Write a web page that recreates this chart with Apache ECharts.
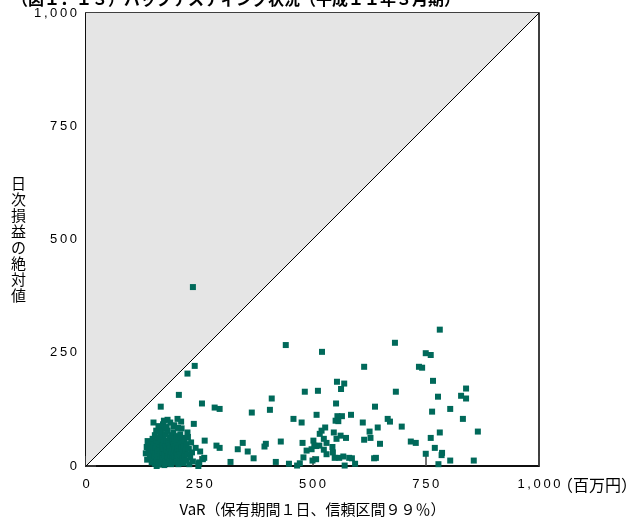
<!DOCTYPE html>
<html>
<head>
<meta charset="utf-8">
<script src="https://cdn.jsdelivr.net/npm/echarts@6/dist/echarts.min.js"></script>
<style>
  html, body { margin: 0; padding: 0; background: #fff; }
  #chart { width: 629px; height: 519px; }
</style>
</head>
<body>
<div id="chart"></div>
<script>
  // 軸
  var axisMax = 1000;
  var tickLabels = { 0: '0', 250: '250', 500: '500', 750: '750', 1000: '1,000' };
  var diagonal = [[0, 0], [1000, 1000]];

  // VaR（百万円） / 日次損益の絶対値（百万円）
  var scatterPoints = [
    [236, 395], [441, 267], [521, 252], [781, 301], [682, 272], [750, 249], [761, 245],
    [240, 221], [224, 204], [205, 157], [165, 131], [256, 138], [284, 129], [295, 126],
    [410, 149], [483, 164], [512, 166], [366, 118], [406, 124], [458, 104], [476, 96],
    [509, 113], [149, 96], [180, 102], [202, 104], [238, 93], [262, 56], [242, 40],
    [252, 32], [288, 45], [295, 40], [261, 18], [249, 6], [319, 9], [346, 51], [335, 37],
    [357, 32], [370, 17], [397, 49], [394, 43], [430, 54], [419, 9], [448, 5], [466, 1],
    [472, 6], [478, 51], [480, 19], [487, 34], [498, 37], [502, 56], [508, 44], [500, 12],
    [508, 15], [516, 71], [614, 219], [735, 219], [742, 217], [554, 186], [570, 182],
    [563, 170], [766, 188], [684, 164], [839, 171], [828, 155], [839, 149], [777, 153],
    [552, 138], [638, 131], [804, 126], [764, 120], [555, 110], [565, 110], [585, 113],
    [551, 100], [557, 99], [611, 96], [666, 104], [671, 98], [697, 87], [832, 104],
    [644, 85], [528, 85], [520, 78], [547, 74], [626, 76], [562, 67], [574, 62], [614, 58],
    [628, 62], [553, 60], [781, 74], [865, 76], [761, 62], [525, 60], [531, 51], [649, 49],
    [717, 54], [728, 51], [504, 45], [515, 45], [544, 42], [545, 30], [525, 36], [531, 26],
    [770, 40], [786, 29], [785, 24], [549, 18], [559, 18], [568, 21], [581, 18], [587, 17],
    [571, 1], [594, 5], [636, 17], [640, 18], [750, 27], [778, 4], [804, 12], [856, 12],
    [210, 98], [155, 78], [168, 82], [193, 87], [211, 83], [224, 74], [250, 8], [248, 0],
    [258, 15], [156, 0]
  ];

  // 左下の密集部分
  var clusterPoints = [
    [132, 28], [134, 42], [135, 14], [136, 55], [138, 30], [140, 45], [141, 18], [142, 36],
    [143, 52], [144, 25], [145, 8], [146, 40], [147, 60], [148, 15], [149, 33], [150, 48],
    [151, 22], [152, 5], [152, 68], [153, 38], [154, 28], [155, 55], [156, 12], [157, 44],
    [158, 32], [159, 20], [160, 62], [160, 3], [161, 50], [162, 26], [163, 40], [164, 14],
    [165, 35], [165, 72], [166, 58], [167, 8], [168, 46], [168, 22], [169, 30], [170, 64],
    [171, 16], [172, 52], [172, 38], [173, 2], [174, 26], [175, 44], [176, 70], [176, 10],
    [177, 34], [178, 56], [179, 20], [180, 42], [180, 78], [181, 6], [182, 30], [183, 50],
    [184, 14], [184, 62], [185, 38], [186, 24], [187, 46], [188, 4], [188, 68], [189, 32],
    [190, 18], [190, 54], [191, 40], [192, 10], [193, 28], [193, 74], [194, 48], [195, 36],
    [196, 60], [196, 20], [197, 8], [198, 44], [199, 30], [200, 66], [200, 14], [201, 52],
    [202, 24], [203, 38], [204, 4], [205, 58], [205, 18], [206, 46], [207, 32], [208, 70],
    [208, 10], [209, 26], [210, 50], [211, 40], [212, 16], [213, 62], [214, 30], [215, 6],
    [216, 44], [217, 22], [218, 56], [220, 34], [221, 12], [222, 48], [224, 26], [225, 64],
    [227, 38], [228, 4], [230, 18], [232, 52], [234, 30], [236, 10],
    [160, 88], [170, 92], [178, 86], [186, 96], [195, 90], [203, 84], [172, 100], [162, 76]
  ];

  var titleText = '（図１．１３）バックテスティング状況（平成１１年３月期）';
  var yName = '日次損益の絶対値';
  var xName = 'VaR（保有期間１日、信頼区間９９％）';
  var unitText = '（百万円）';

  var numFont = '"Liberation Sans", Arial, sans-serif';
  var jpFont = '"Noto Sans CJK JP", sans-serif';

  function spaced(s) {
    return s.split('').join('\u2009');
  }

  var chartDom = document.getElementById('chart');
  var myChart = echarts.init(chartDom);

  var option = {
    backgroundColor: '#fff',
    animation: false,
    grid: {
      left: 86, right: 90, top: 13, bottom: 53,
      outerBoundsMode: 'none', containLabel: false,
      show: true, borderColor: '#000', borderWidth: 1.5
    },
    graphic: [
      {
        type: 'text', left: 12, top: -9,
        style: { text: titleText, font: 'bold 16px ' + jpFont, fill: '#000' }
      },
      {
        type: 'text', x: 557, y: 485,
        style: { text: unitText, font: '16px ' + jpFont, fill: '#000', textVerticalAlign: 'middle' }
      }
    ],
    xAxis: {
      type: 'value', min: 0, max: axisMax, interval: 250,
      name: xName, nameLocation: 'middle', nameGap: 36,
      nameTextStyle: { fontFamily: jpFont, fontSize: 15, color: '#000' },
      axisLine: { show: true, lineStyle: { color: '#000', width: 1.5 } },
      axisTick: { show: true, inside: true, length: 10, lineStyle: { color: '#444', width: 1.5 } },
      axisLabel: {
        margin: 12, color: '#000', fontFamily: numFont, fontSize: 13,
        formatter: function (v) { return spaced(tickLabels[v] || ''); }
      },
      splitLine: { show: false }
    },
    yAxis: {
      type: 'value', min: 0, max: axisMax, interval: 250,
      name: yName.split('').join('\n'), nameLocation: 'middle', nameGap: 60, nameRotate: 0,
      nameTextStyle: { fontFamily: jpFont, fontSize: 15, lineHeight: 16, color: '#000' },
      axisLine: { show: true, lineStyle: { color: '#000', width: 1.5 } },
      axisTick: { show: true, inside: true, length: 10, lineStyle: { color: '#444', width: 1.5 } },
      axisLabel: {
        margin: 9, color: '#000', fontFamily: numFont, fontSize: 13,
        formatter: function (v) { return spaced(tickLabels[v] || ''); }
      },
      splitLine: { show: false }
    },
    series: [
      {
        type: 'line',
        data: diagonal,
        symbol: 'none',
        silent: true,
        z: 1,
        lineStyle: { color: '#000', width: 1 },
        areaStyle: { color: '#e5e5e5', opacity: 1, origin: 'end' }
      },
      {
        type: 'scatter',
        data: scatterPoints.concat(clusterPoints),
        symbol: 'rect',
        symbolSize: 6,
        z: 3,
        itemStyle: { color: '#00695a', opacity: 1 }
      }
    ]
  };

  myChart.setOption(option);
</script>
</body>
</html>
